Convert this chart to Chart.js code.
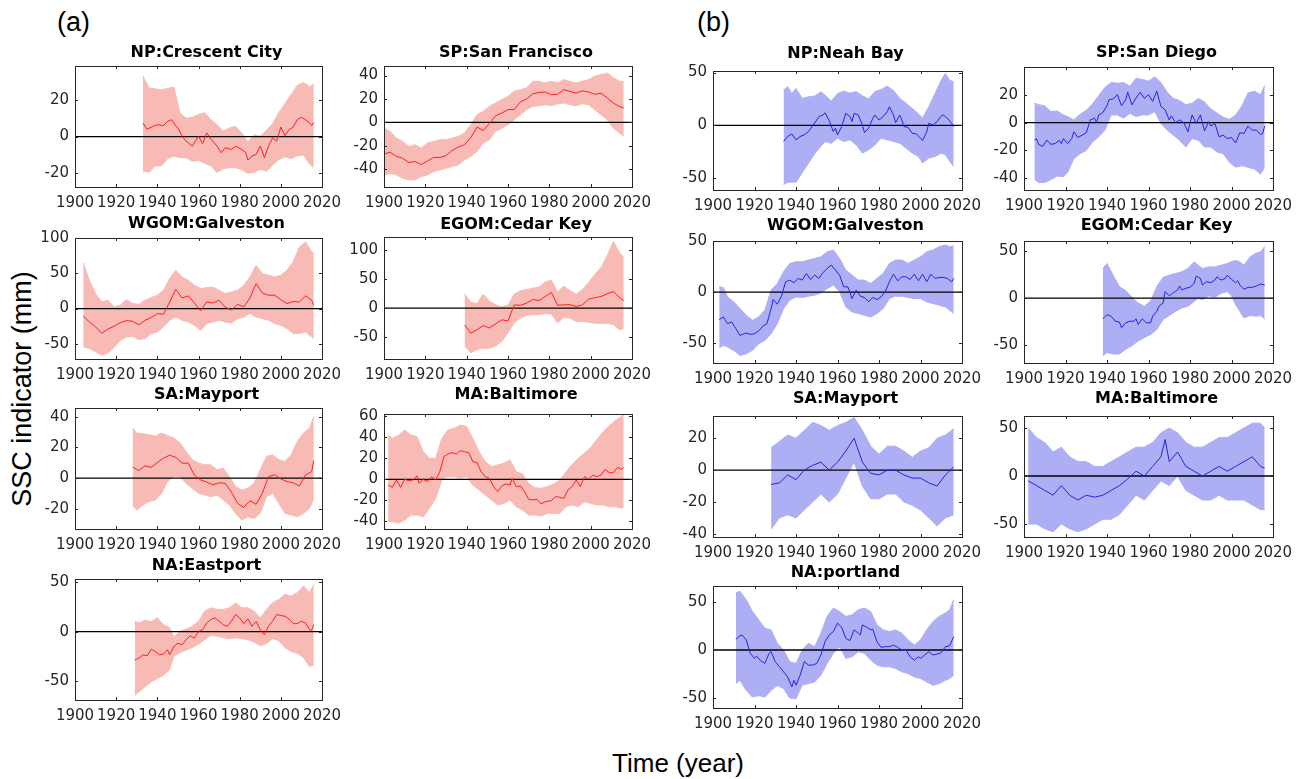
<!DOCTYPE html>
<html>
<head>
<meta charset="utf-8">
<script src="https://cdn.jsdelivr.net/npm/chart.js@4.4.1/dist/chart.umd.min.js"></script>
<style>
  body { margin: 0; background: #fff; width: 1311px; height: 779px; position: relative; overflow: hidden; }
  canvas { position: absolute; }
  .lbl { position: absolute; font-family: "Liberation Sans", Arial, sans-serif; color: #000; line-height: 1; white-space: nowrap; }
</style>
</head>
<body>
<div class="lbl" style="left:57px;top:9px;font-size:27px">(a)</div>
<div class="lbl" style="left:697px;top:9px;font-size:27px">(b)</div>
<div class="lbl" style="left:22px;top:389px;font-size:27px;transform:translate(-50%,-50%) rotate(-90deg)">SSC indicator (mm)</div>
<div class="lbl" style="left:678px;top:763px;font-size:26px;transform:translate(-50%,-50%)">Time (year)</div>
<script>
// ===== DATA =====
const xTicks = [1900, 1920, 1940, 1960, 1980, 2000, 2020];

// (a) NP:Crescent City
const aCrescentYears = [1933,1935,1938,1940,1943,1945,1947,1949,1950,1952,1954,1957,1960,1962,1964,1966,1969,1971,1973,1976,1978,1981,1983,1984,1986,1988,1990,1992,1994,1996,1998,2000,2002,2004,2006,2008,2010,2012,2014,2015,2016];
const aCrescentMean = [7.4,4,5.6,6.5,6,8.3,9.2,5.6,4.7,0.2,-2.5,-5.2,0.2,-3.8,2,-1.3,-5.2,-8.8,-6.1,-7,-5.2,-7,-8.8,-12.8,-10.6,-9.7,-5.2,-11.5,-5.2,-0.7,-2.5,5.2,0.5,3.8,5.2,9.2,10.5,9.2,7.4,6,7.7];
const aCrescentBandYears = [1933,1936,1939,1942,1945,1948,1951,1954,1957,1960,1963,1966,1969,1972,1975,1978,1981,1984,1987,1990,1993,1996,1999,2002,2005,2008,2011,2014,2016];
const aCrescentHi = [33,26.5,26,25.5,26.3,27,13,10,10.5,12,13,9.2,6.5,3,4.7,5.6,2,-3,1,0.2,3.5,7,13,18,23,28,29.5,27.2,28.6];
const aCrescentLo = [-18.7,-19.5,-16,-16,-12,-10.6,-11.5,-11.5,-13.5,-13,-14.5,-16,-19.6,-17.5,-16.9,-17,-18,-20,-19.6,-17.8,-19,-15.5,-12.5,-11,-12,-10.5,-10,-15,-16.9];
const aCrescentTicks = [-20, 0, 20];

// (a) SP:San Francisco
const aSfYears = [1900,1903,1906,1909,1912,1915,1918,1921,1924,1927,1930,1933,1936,1939,1942,1945,1948,1951,1954,1957,1960,1963,1966,1969,1972,1975,1978,1981,1984,1987,1990,1993,1996,1999,2002,2005,2008,2011,2014,2016];
const aSfMean = [-26.9,-25.5,-29,-30.6,-34.3,-33.4,-36,-33,-30,-30,-28.5,-24,-21,-19,-13,-4,-6.9,-1.1,5.7,8,10.9,11,17.5,20,24.5,25.5,26,23.7,24,28,26.5,25,27,26,24,25,21,16.5,13.5,12.3];
const aSfHi = [-4.9,-7.7,-13.4,-16.3,-20.6,-19.1,-22,-17.7,-16.3,-14.9,-14.9,-13.4,-12,-9.1,-2,6.6,9.4,13.7,16.6,19.4,22.3,26.6,28,29.4,35.1,35.1,33.7,35.1,33.7,36.6,35.1,33.7,35.1,36.6,39.4,40.9,42.3,38,35.1,35.1];
const aSfLo = [-44.9,-43.4,-44.9,-47.7,-49.1,-49.1,-46.3,-44.9,-42,-40.6,-39.1,-37.7,-36.3,-32,-29.1,-24.9,-17.7,-14.9,-7.7,-4.9,-2,2.3,6.6,10.9,13.7,14.3,15.1,14.3,16,16.6,15.1,14.3,16,15.1,10.9,6.6,2.3,-4.9,-9.1,-12];
const aSfTicks = [-40, -20, 0, 20, 40];

// (a) WGOM:Galveston
const aGalvYears = [1904,1907,1910,1913,1916,1919,1922,1925,1928,1931,1934,1937,1940,1943,1946,1949,1952,1955,1958,1961,1964,1967,1970,1973,1976,1979,1982,1985,1988,1991,1994,1997,2000,2003,2006,2009,2012,2015,2016];
const aGalvMean = [-10.8,-18.9,-25.9,-35,-29,-25,-20,-17,-18,-23,-16.5,-12.7,-7.1,-8,9.4,27.4,15,18,8,-3,9.4,8,11.8,2,-2,6,2.4,15,35.4,22,19,19,12.7,7.1,10,9.4,18,11.8,4.7];
const aGalvHi = [64.6,40.1,21.2,9.4,11.8,2.4,4.7,12.7,7.1,6.1,11.8,15.6,18.9,25.9,42.5,54.2,44.8,40.1,33,28.3,29.7,30.7,25.9,21.2,23.6,25.9,33,44.8,61.3,49.5,47.2,44.8,47.2,54.2,66,87.3,94.3,80.2,77.8];
const aGalvLo = [-54.2,-56.6,-61.3,-66,-62.7,-55.2,-44.8,-40.1,-39.2,-43.9,-42.5,-35.4,-33,-25.9,-16.5,-11.8,-16.5,-18.9,-23.6,-30.7,-21.2,-18.9,-16.5,-18.9,-20.3,-14.2,-11.8,-7.1,-11.8,-14.2,-16.5,-21.2,-23.6,-28.3,-35.4,-35.4,-33,-40.1,-42.5];
const aGalvTicks = [-50, 0, 50, 100];

// (a) EGOM:Cedar Key
const aCedarYears = [1939,1942,1945,1948,1951,1954,1957,1960,1963,1966,1969,1972,1975,1978,1981,1984,1987,1990,1993,1996,1999,2002,2005,2008,2011,2014,2016];
const aCedarMean = [-28.7,-43,-37,-30,-34,-27,-20,-22,5.7,5,8.6,15,13,20,27,5,5.7,6,2.9,5.7,15.5,18,20,25,28.7,18,13];
const aCedarHi = [24.7,10,8,24,12,6,2.5,5,24,30,32,34.5,36,45,48,28,38,30,24,32,44,58,70,90,115,95,88];
const aCedarLo = [-65,-77,-71,-69,-69,-65,-57,-42,-25,-17,-12,-11.5,-11,-9,-10,-25,-16,-17,-23,-23,-24,-26,-26,-26,-28,-37,-34.5];
const aCedarTicks = [-50, 0, 50, 100];

// (a) SA:Mayport
const aMayYears = [1928,1931,1934,1937,1940,1943,1946,1949,1952,1955,1958,1961,1964,1967,1970,1973,1976,1979,1982,1985,1988,1991,1994,1997,2000,2003,2006,2009,2012,2015,2016];
const aMayMean = [7.2,5,8,7,10.2,13,15,13.5,9.8,9.8,2,-1.1,-2.5,-4.3,-3,-3.3,-9,-16.3,-19,-14.6,-17,-9.8,1,2.2,-0.5,-2.2,-3,-5,2,4.3,11.5];
const aMayBandYears = [1928,1930,1933,1936,1939,1942,1945,1948,1951,1954,1957,1960,1963,1966,1969,1972,1975,1978,1981,1984,1987,1990,1993,1996,1999,2002,2005,2008,2011,2014,2016];
const aMayHi = [32.6,29.3,28.9,28.3,27.2,29.3,27.6,26.1,22.8,17.4,12,9.8,8.7,8.7,5.4,6.5,1.1,-5.4,-7.6,-6.5,-3.3,5.4,14.1,15.2,12,10.9,15.2,23.9,29.3,32.6,40.2];
const aMayLo = [-17.4,-20.7,-17.4,-15.2,-14.1,-9.8,-2.2,1.1,1.1,-3.3,-6.5,-9.8,-10.9,-12,-10.9,-14.1,-17.4,-22.8,-27.2,-25,-26.1,-22.8,-12,-9.8,-16.3,-22.8,-23.9,-25,-22.8,-19.6,-13];
const aMayTicks = [-20, 0, 20, 40];

// (a) MA:Baltimore
const aBaltYears = [1902,1904,1906,1908,1910,1912,1914,1916,1917,1919,1921,1923,1925,1927,1929,1931,1933,1935,1937,1939,1941,1943,1945,1947,1949,1951,1953,1955,1957,1959,1961,1962,1964,1966,1968,1970,1972,1974,1976,1978,1981,1983,1985,1987,1989,1991,1993,1995,1997,1999,2001,2003,2005,2007,2009,2011,2013,2015,2016];
const aBaltMean = [-5.4,-7.6,-0.6,-7.6,0,-1.3,-0.6,3.2,-3.8,0,-2.2,2.5,-0.6,7.3,21.6,24.1,25.4,24.1,27.3,26.3,25.4,16.8,15.9,7.3,2.5,1,-7,-11.7,-6.3,-4.4,-5.4,1,-7,-6.3,-11.7,-19,-19.7,-19,-23.5,-21.3,-20.3,-16.5,-17.1,-18.1,-10.2,-7,-0.6,-7,2.5,0,4.1,2.5,4.1,9.5,6.3,6.3,11.4,9.5,11.4];
const aBaltBandYears = [1902,1904,1907,1910,1913,1916,1919,1922,1925,1928,1931,1934,1937,1940,1943,1946,1949,1952,1955,1958,1961,1964,1967,1970,1973,1976,1979,1982,1985,1988,1991,1994,1997,2000,2003,2006,2009,2012,2015,2016];
const aBaltHi = [42.2,39,42,47,42.2,40.6,26.3,20,20,39,47,48.6,51.7,50.2,39,26.3,16.8,12.1,13.7,15.2,18.4,7.3,5,-4,-8,-8.6,-7,-4.5,-1,7,14,20,25,30,38,45,51,56,60,61.3];
const aBaltLo = [-40.3,-40.3,-41.9,-38.7,-34,-34,-35.6,-27.6,-18.1,-0.6,2.5,2.5,1,2.5,-5.4,-10.2,-14.9,-19.7,-24.4,-22.9,-19.7,-26,-29.2,-34,-34,-34.9,-32.4,-32.4,-32.4,-26,-24.4,-26,-21.3,-22.9,-24.4,-24.4,-26,-26,-27.6,-26];
const aBaltTicks = [-40, -20, 0, 20, 40, 60];

// (a) NA:Eastport
const aEastYears = [1929,1931,1933,1935,1937,1939,1941,1943,1945,1946,1948,1950,1952,1954,1956,1958,1960,1962,1964,1966,1968,1970,1972,1974,1976,1978,1980,1982,1984,1986,1988,1990,1992,1994,1996,1998,2000,2002,2004,2006,2008,2010,2012,2014,2015,2016];
const aEastMean = [-28.4,-26.7,-23.3,-24.3,-17.6,-19.9,-23.3,-22.3,-18.2,-23.3,-14.9,-11.5,-13.2,-8.1,-4.1,-6.4,0.3,2,8.8,12.2,13.9,10.5,7.1,5.4,10.5,17.2,13.9,8.1,12.8,5.4,10.5,2,-3,5.4,10.5,17.2,16.2,15.5,12.8,8.1,8.1,10.5,8.8,2,1.4,7.1];
const aEastBandYears = [1929,1931,1934,1937,1940,1943,1946,1948,1951,1954,1957,1960,1963,1966,1969,1972,1975,1978,1981,1984,1987,1990,1993,1996,1999,2002,2005,2008,2011,2014,2016];
const aEastHi = [10.5,8.8,11.5,10,14,7,4,-5.4,0.3,2.7,5.4,10.5,20.6,24,22.3,22.3,24,29,24,24,20.6,13.9,22.3,29,32.4,37.5,35.8,39.2,45.9,39.2,47.6];
const aEastLo = [-63.9,-60.5,-55.4,-50.3,-47,-43.6,-38,-25,-21,-18.5,-16,-12.5,-8,-3.5,-4.5,-6,-7,-6,-7,-8,-10.5,-14,-12,-7,-9,-16,-20,-21.6,-26,-35,-33.4];
const aEastTicks = [-50, 0, 50];

// (b) NP:Neah Bay
const bNeahYears = [1934,1936,1938,1940,1942,1944,1946,1948,1950,1951,1953,1954,1956,1958,1959,1960,1962,1964,1966,1967,1968,1970,1972,1973,1975,1977,1978,1980,1982,1984,1985,1987,1988,1990,1991,1992,1994,1996,1998,2000,2001,2003,2004,2006,2008,2010,2011,2013,2015,2016];
const bNeahMean = [-15.4,-10.7,-8.2,-13.8,-10.7,-9.1,-6,-0.6,5,8.2,9.7,11.9,4.4,-6,-2.8,-9.1,-1.3,11.3,8.2,3.5,11.3,9.7,0.3,-6.9,-2.8,6.6,9.7,5,8.2,12.9,17.6,9.7,2.5,9.7,5,-1.3,-1.9,-7.5,-8.2,-12.3,-14.5,-6,1.9,0.3,3.5,8.8,9.7,6.6,1.9,-1.3];
const bNeahBandYears = [1934,1936,1938,1940,1943,1946,1949,1952,1954,1957,1960,1963,1966,1969,1972,1975,1978,1981,1984,1987,1990,1993,1996,1999,2001,2004,2007,2010,2012,2014,2016];
const bNeahHi = [33.3,36.5,30.2,34.9,25.5,27,27.7,31.8,28.6,23,30,32.5,30.5,32,28,25,32,34,37,33,25.5,21,16,11,7,17.6,30.2,42.8,49.1,42.8,41.2];
const bNeahLo = [-56.3,-54,-54,-54,-45,-36,-27,-20,-15.4,-17,-12.3,-15.4,-13.8,-18.6,-26.4,-23.3,-18.6,-12.3,-13.8,-15.4,-17,-21.7,-26.4,-29.6,-35.8,-31.1,-29.6,-26.4,-28,-34,-39];
const bNeahTicks = [-50, 0, 50];

// (b) SP:San Diego
const bSdYears = [1905,1906,1907,1909,1911,1913,1915,1917,1918,1919,1921,1923,1924,1926,1928,1930,1932,1934,1935,1936,1938,1940,1941,1943,1945,1947,1949,1950,1952,1954,1956,1958,1960,1962,1964,1966,1968,1970,1971,1973,1975,1977,1979,1981,1983,1985,1987,1989,1990,1992,1994,1996,1998,2000,2002,2004,2006,2008,2010,2012,2014,2015,2016];
const bSdMean = [-12.7,-11.5,-15.6,-17.1,-12.7,-15.6,-15.1,-12.7,-15.1,-11.5,-15.1,-11.5,-6.6,-10.7,-9,-7.3,2,3.2,0,5.6,7.3,12.2,16.6,17.1,20.2,12.2,16.6,22,12.9,17.8,22,17.6,20.2,15.4,22.7,11.7,9.3,2,4.9,0,2,0,-6.6,5.6,-0.5,5.6,-5.9,0.7,-2.4,-0.5,-10.2,-9,-11.5,-10.7,-14.6,-7.3,-7.8,-2.4,-5.4,-5.4,-8.5,-7.8,-2.4];
const bSdBandYears = [1905,1907,1910,1913,1916,1919,1921,1924,1927,1930,1933,1936,1939,1942,1945,1948,1951,1954,1957,1960,1963,1966,1969,1972,1975,1978,1981,1984,1987,1990,1993,1996,1999,2002,2005,2008,2011,2014,2016];
const bSdHi = [14.1,13,12.2,8,8.5,5.6,4.4,2,6,9,13.5,19.5,25.5,29,28.5,29,26.3,32,31.2,30,33,29,22,17.5,16,13,14,17.5,15,10,7,4,2.4,5.6,12,21.5,22.7,20.2,26.8];
const bSdLo = [-40.7,-43.2,-43.2,-41,-38.5,-39,-35.9,-26.1,-22.4,-20,-13.9,-10.2,-5.4,5.6,5.6,3.2,6.8,4.4,5.6,5.6,8,-0.5,-5.4,-9,-12.7,-17.6,-11.5,-12.7,-17.6,-17.6,-21.2,-22.4,-28.5,-32.2,-31,-32.2,-33.4,-37.1,-32.2];
const bSdTicks = [-40, -20, 0, 20];

// (b) WGOM:Galveston
const bGalvYears = [1903,1905,1907,1909,1911,1913,1916,1918,1920,1922,1924,1926,1928,1929,1931,1933,1935,1937,1939,1941,1943,1945,1947,1949,1951,1953,1955,1957,1959,1961,1963,1965,1967,1969,1971,1973,1975,1977,1979,1981,1983,1985,1987,1989,1991,1993,1995,1997,1999,2001,2003,2005,2007,2009,2011,2013,2015,2016];
const bGalvMean = [-26.8,-24.2,-30.7,-29.1,-35.6,-42.2,-39.9,-41.2,-40.5,-37.9,-33.3,-30.7,-16,-7.2,-11.8,-3.9,10.1,11.8,9.2,13.4,11.8,18.3,12.4,16.7,13.4,19,23.2,26.5,21.6,16.7,5.2,5.2,-6.2,2,-3.9,-5.2,-9.5,-5.2,-7.2,-4.6,0.3,10.1,17.6,11.1,15,15,12.4,17.6,11.1,17.6,10.1,17.6,13.4,14.4,14.4,13.4,10.1,13.4];
const bGalvBandYears = [1903,1905,1907,1910,1913,1916,1919,1922,1925,1928,1931,1934,1937,1940,1943,1946,1949,1952,1955,1958,1961,1964,1967,1970,1973,1976,1979,1982,1985,1988,1991,1994,1997,2000,2003,2006,2009,2012,2014,2016];
const bGalvHi = [5.2,4.6,-4.6,-9.5,-16,-22.5,-27.5,-24.2,-17.6,2,8.5,19.9,28.1,29.7,29.7,31.4,33,34.6,39.5,41.2,33,21.6,16.7,11.8,11.8,8.5,13.4,18.3,28.1,31.4,31.4,28.1,31.4,34.6,39.5,41.2,44.4,46.1,44.4,45.1];
const bGalvLo = [-54.2,-52,-53.6,-56.9,-61.8,-60.1,-56.9,-50.3,-47.1,-40.5,-30.7,-16,-7.8,-4.6,-5.2,-3.9,-2.9,-0.7,3.6,6.9,0.3,-14.4,-19.3,-20.9,-22.5,-24.2,-20.9,-16,-6.2,-3.9,-3.9,-5.2,-6.2,-6.2,-9.5,-11.1,-12.7,-14.4,-17.6,-20.9];
const bGalvTicks = [-50, 0, 50];

// (b) EGOM:Cedar Key
const bCedarYears = [1938,1940,1942,1944,1946,1947,1949,1951,1953,1954,1955,1957,1959,1961,1962,1964,1965,1967,1968,1970,1972,1974,1975,1976,1978,1980,1982,1983,1985,1986,1988,1990,1992,1993,1995,1997,1998,2000,2002,2003,2004,2006,2008,2010,2012,2014,2016];
const bCedarMean = [-22,-17.5,-19.2,-24.5,-25.5,-31.5,-26.2,-24.5,-24.5,-22,-28,-22,-26.2,-26.2,-19.2,-14,-8.7,-5.2,7,2.4,5.9,8.7,12.9,8.7,10.5,11.5,15.7,23.4,21,14,17.5,16.4,19.2,22.7,19.2,21,24.5,19.9,16.4,18.5,14,9.4,11.5,11.5,12.9,15,14];
const bCedarBandYears = [1938,1940,1943,1946,1949,1952,1955,1958,1961,1964,1967,1970,1973,1976,1979,1982,1984,1986,1989,1992,1995,1998,2000,2002,2004,2006,2009,2012,2014,2016];
const bCedarHi = [31.5,36.7,24,12.2,8,1,-5.2,-8.7,-3,12.2,22,24.5,26.2,28,31.5,38.5,35,31.5,33.2,33.2,35,36.7,39,40,38.5,35,44,48,49,54.9];
const bCedarLo = [-61.2,-57.7,-59.4,-59.4,-54.2,-50.7,-45.5,-42,-38.5,-33.2,-22.7,-18.5,-14,-10.5,-8.7,-3.5,0,-1.7,2.4,1,5.2,7,2.4,-7,-14,-21,-18.5,-19.2,-18.5,-22];
const bCedarTicks = [-50, 0, 50];

// (b) SA:Mayport
const bMayYears = [1928,1932,1936,1940,1944,1948,1952,1956,1960,1964,1968,1972,1976,1980,1984,1988,1992,1996,2000,2004,2008,2012,2016];
const bMayMean = [-9,-8,-3,-6,0,3,5,0,5,12,20,5,-2,-3,0,0,-3,-5,-5,-8,-10,-3,2];
const bMayHi = [14,18,22,20,25,30,28,25,28,30,33,25,15,10,15,15,12,8,12,14,20,22,26];
const bMayLo = [-37,-30,-28,-30,-25,-20,-15,-20,-15,-5,5,-10,-18,-18,-15,-15,-20,-22,-25,-30,-35,-30,-28];
const bMayTicks = [-40, -20, 0, 20];

// (b) MA:Baltimore
const bBaltYears = [1902,1906,1910,1914,1918,1922,1926,1930,1934,1938,1942,1946,1950,1954,1958,1962,1966,1968,1970,1974,1978,1982,1986,1990,1994,1998,2002,2006,2010,2014,2016];
const bBaltMean = [-5,-10,-15,-20,-10,-20,-25,-20,-22,-20,-15,-10,-3,5,0,10,20,38,15,25,10,5,0,5,10,5,10,15,20,10,8];
const bBaltBandYears = [1902,1906,1910,1914,1918,1922,1926,1930,1934,1938,1942,1946,1950,1954,1958,1962,1966,1970,1974,1978,1982,1986,1990,1994,1998,2002,2006,2010,2014,2016];
const bBaltHi = [50,40,35,25,30,20,15,15,10,10,15,20,25,30,30,35,45,50,45,35,30,30,35,40,40,45,50,55,55,50];
const bBaltLo = [-50,-50,-55,-58,-50,-55,-58,-55,-50,-45,-45,-40,-30,-20,-25,-15,-5,-10,0,-15,-20,-25,-25,-20,-25,-25,-25,-30,-35,-35];
const bBaltTicks = [-50, 0, 50];

// (b) NA:portland
const bPortYears = [1911,1913,1914,1916,1918,1920,1921,1923,1925,1927,1928,1930,1932,1934,1936,1938,1939,1940,1942,1944,1946,1948,1950,1952,1954,1956,1958,1960,1962,1964,1966,1968,1970,1971,1972,1974,1976,1977,1979,1981,1983,1985,1987,1989,1991,1993,1995,1997,1999,2000,2002,2004,2006,2008,2010,2012,2014,2016];
const bPortMean = [11.2,14.7,15.7,10.5,-3.5,-8.7,-6.3,-11.2,-14,-3.5,-1.7,-12.2,-17.5,-22.7,-28,-38.5,-31.5,-36.7,-26.2,-12.2,-15.7,-15.7,-14,-5.2,8.7,15.7,19.2,28,23.8,12.2,9.8,21,17.5,15.7,26.2,23.8,21,21.7,8.7,2.8,3.5,3.5,5.2,2.8,0,0,-7,-10.5,-7,-8.7,-5.2,-1.7,-5.2,-4.2,-2.8,3.5,4.2,14];
const bPortBandYears = [1911,1913,1916,1919,1922,1925,1928,1931,1934,1937,1940,1943,1946,1949,1952,1955,1958,1961,1964,1967,1970,1973,1976,1979,1982,1985,1988,1991,1994,1997,2000,2003,2006,2009,2012,2014,2016];
const bPortHi = [59.4,61.2,52.4,40.2,31.5,22.7,21,7,0,-12.2,-14,0,7,3.5,17.5,35,43.7,40.2,35,36.7,42,43.7,40.2,26.2,21,19.2,21,17.5,10.5,5.2,10.5,21,29.7,35,38.5,42,52.4];
const bPortLo = [-35,-31.5,-42,-49,-47.5,-49,-42,-37,-40,-50,-50.7,-36.7,-35,-33.2,-26.2,-14,-3.5,3.5,-8.7,-7,-1.7,-3.5,-10.5,-15.7,-17.5,-17.5,-19.2,-22.7,-24.5,-28,-29.7,-33.2,-36.7,-35,-31.5,-29.7,-26.2];
const bPortTicks = [-50, 0, 50];

// ===== STYLE =====
const RED = { band: '#f8bab5', line: '#ff1f1f' };
const BLUE = { band: '#aeaef5', line: '#2323e6' };

// box = plot area [left, top, right, bottom] on the page
const panels = [
  { title: 'NP:Crescent City', box: [75, 66, 322, 187], titleY: 53, y: [-27.5, 38.5], ticks: aCrescentTicks, years: aCrescentYears, mean: aCrescentMean, bandYears: aCrescentBandYears, hi: aCrescentHi, lo: aCrescentLo, col: RED },
  { title: 'SP:San Francisco', box: [384, 66, 632, 187], titleY: 53, y: [-55.2, 48.2], ticks: aSfTicks, years: aSfYears, mean: aSfMean, bandYears: aSfYears, hi: aSfHi, lo: aSfLo, col: RED },
  { title: 'WGOM:Galveston', box: [75, 238, 322, 359], titleY: 224, y: [-71.4, 100], ticks: aGalvTicks, years: aGalvYears, mean: aGalvMean, bandYears: aGalvYears, hi: aGalvHi, lo: aGalvLo, col: RED },
  { title: 'EGOM:Cedar Key', box: [384, 237, 632, 359], titleY: 225, y: [-87.4, 122.4], ticks: aCedarTicks, years: aCedarYears, mean: aCedarMean, bandYears: aCedarYears, hi: aCedarHi, lo: aCedarLo, col: RED },
  { title: 'SA:Mayport', box: [75, 408, 322, 529], titleY: 395, y: [-33, 45.6], ticks: aMayTicks, years: aMayYears, mean: aMayMean, bandYears: aMayBandYears, hi: aMayHi, lo: aMayLo, col: RED },
  { title: 'MA:Baltimore', box: [384, 414, 632, 529], titleY: 395, y: [-47.3, 62.2], ticks: aBaltTicks, years: aBaltYears, mean: aBaltMean, bandYears: aBaltBandYears, hi: aBaltHi, lo: aBaltLo, col: RED },
  { title: 'NA:Eastport', box: [75, 579, 322, 700], titleY: 566, y: [-68.6, 52.9], ticks: aEastTicks, years: aEastYears, mean: aEastMean, bandYears: aEastBandYears, hi: aEastHi, lo: aEastLo, col: RED },
  { title: 'NP:Neah Bay', box: [713, 71, 962, 190], titleY: 54, y: [-61.4, 51.5], ticks: bNeahTicks, years: bNeahYears, mean: bNeahMean, bandYears: bNeahBandYears, hi: bNeahHi, lo: bNeahLo, col: BLUE },
  { title: 'SP:San Diego', box: [1024, 67, 1273, 190], titleY: 53, y: [-48.6, 40.2], ticks: bSdTicks, years: bSdYears, mean: bSdMean, bandYears: bSdBandYears, hi: bSdHi, lo: bSdLo, col: BLUE },
  { title: 'WGOM:Galveston', box: [713, 241, 962, 363], titleY: 226, y: [-69.2, 50], ticks: bGalvTicks, years: bGalvYears, mean: bGalvMean, bandYears: bGalvBandYears, hi: bGalvHi, lo: bGalvLo, col: BLUE },
  { title: 'EGOM:Cedar Key', box: [1024, 241, 1273, 363], titleY: 226, y: [-68.9, 60.7], ticks: bCedarTicks, years: bCedarYears, mean: bCedarMean, bandYears: bCedarBandYears, hi: bCedarHi, lo: bCedarLo, col: BLUE },
  { title: 'SA:Mayport', box: [713, 416, 962, 537], titleY: 399, y: [-42, 34], ticks: bMayTicks, years: bMayYears, mean: bMayMean, bandYears: bMayYears, hi: bMayHi, lo: bMayLo, col: BLUE },
  { title: 'MA:Baltimore', box: [1024, 416, 1273, 537], titleY: 399, y: [-63.5, 62.5], ticks: bBaltTicks, years: bBaltYears, mean: bBaltMean, bandYears: bBaltBandYears, hi: bBaltHi, lo: bBaltLo, col: BLUE },
  { title: 'NA:portland', box: [713, 586, 962, 708], titleY: 573, y: [-60.4, 66.7], ticks: bPortTicks, years: bPortYears, mean: bPortMean, bandYears: bPortBandYears, hi: bPortHi, lo: bPortLo, col: BLUE },
];

Chart.defaults.font.family = '"DejaVu Sans", sans-serif';
Chart.defaults.font.size = 15;
Chart.defaults.color = '#262626';

// MATLAB-like box: frame on all four sides, inward ticks, bold title
const boxPlugin = {
  id: 'box',
  afterDatasetsDraw(chart, args, opts) {
    const { ctx, chartArea: a, scales: { x, y } } = chart;
    const TL = 3;
    ctx.save();
    ctx.strokeStyle = '#262626';
    ctx.lineWidth = 1;
    ctx.beginPath();
    x.ticks.forEach(t => {
      const px = Math.round(x.getPixelForValue(t.value)) + 0.5;
      ctx.moveTo(px, a.bottom); ctx.lineTo(px, a.bottom - TL);
      ctx.moveTo(px, a.top); ctx.lineTo(px, a.top + TL);
    });
    y.ticks.forEach(t => {
      const py = Math.round(y.getPixelForValue(t.value)) + 0.5;
      ctx.moveTo(a.left, py); ctx.lineTo(a.left + TL, py);
      ctx.moveTo(a.right, py); ctx.lineTo(a.right - TL, py);
    });
    ctx.stroke();
    ctx.strokeRect(Math.round(a.left) + 0.5, Math.round(a.top) + 0.5, Math.round(a.right - a.left), Math.round(a.bottom - a.top));
    ctx.fillStyle = '#000';
    ctx.font = 'bold 16px "DejaVu Sans", sans-serif';
    ctx.textAlign = 'center';
    ctx.textBaseline = 'middle';
    ctx.fillText(opts.text, (a.left + a.right) / 2 + 8, opts.titleY);
    ctx.restore();
  }
};

const PAD_L = 60, PAD_T = 50, PAD_R = 28, PAD_B = 36;
const toPts = (xs, ys) => xs.map((x, i) => ({ x, y: ys[i] }));

function drawPanel(p) {
  const [L, T, R, B] = p.box;
  const cv = document.createElement('canvas');
  cv.width = R - L + PAD_L + PAD_R;
  cv.height = B - T + PAD_T + PAD_B;
  cv.style.left = (L - PAD_L) + 'px';
  cv.style.top = (T - PAD_T) + 'px';
  document.body.appendChild(cv);

  new Chart(cv, {
    type: 'line',
    data: {
      datasets: [
        { data: toPts(p.years, p.mean), borderColor: p.col.line, borderWidth: 1, pointRadius: 0, fill: false },
        { data: toPts([1900, 2020], [0, 0]), borderColor: '#000', borderWidth: 1.3, pointRadius: 0, fill: false },
        { data: toPts(p.bandYears, p.hi), borderColor: p.col.band, borderWidth: 1, pointRadius: 0, backgroundColor: p.col.band, fill: '+1' },
        { data: toPts(p.bandYears, p.lo), borderColor: p.col.band, borderWidth: 1, pointRadius: 0, fill: false },
      ]
    },
    options: {
      responsive: false,
      animation: false,
      events: [],
      layout: { padding: { left: 0, top: PAD_T, right: PAD_R, bottom: 0 } },
      plugins: {
        legend: { display: false },
        tooltip: { enabled: false },
        box: { text: p.title, titleY: p.titleY - (T - PAD_T) },
      },
      scales: {
        x: {
          type: 'linear', min: 1900, max: 2020,
          grid: { display: false, drawTicks: false },
          border: { display: false },
          afterBuildTicks: s => { s.ticks = xTicks.map(v => ({ value: v })); },
          afterFit: s => { s.height = PAD_B; },
          ticks: { autoSkip: false, maxRotation: 0, padding: 7, callback: v => String(v) },
        },
        y: {
          type: 'linear', min: p.y[0], max: p.y[1],
          grid: { display: false, drawTicks: false },
          border: { display: false },
          afterBuildTicks: s => { s.ticks = p.ticks.map(v => ({ value: v })); },
          afterFit: s => { s.width = PAD_L; },
          ticks: { padding: 6, callback: v => String(v) },
        }
      }
    },
    plugins: [boxPlugin]
  });
}

panels.forEach(drawPanel);
</script>
</body>
</html>
